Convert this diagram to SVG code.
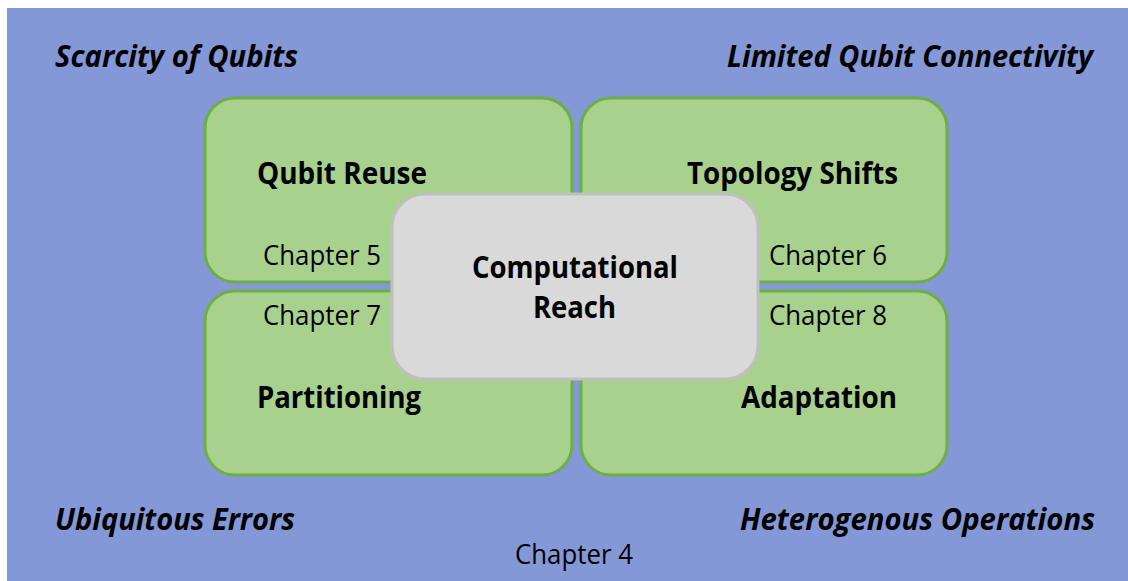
<svg xmlns="http://www.w3.org/2000/svg" width="1128" height="581" viewBox="0 0 1128 581">
  <style>
    .bg { fill: #8497D6; }
    .quad { fill: #A9D18E; stroke: #70AD47; stroke-width: 3; }
    .core { fill: #D9D9D9; stroke: #BFBFBF; stroke-width: 3; }
    text { font-family: "Open Sans", "Noto Sans", "Liberation Sans", sans-serif; fill: #000; }
    .title { font-size: 31px; font-weight: bold; }
    .chap { font-size: 28px; }
    .chal { font-size: 30px; font-weight: bold; font-style: italic; }
  </style>

  <!-- backdrop -->
  <rect class="bg" x="7" y="8" width="1121" height="573"/>

  <!-- challenges in the corners -->
  <g id="challenges">
    <text class="chal" x="55" y="67" textLength="243" lengthAdjust="spacingAndGlyphs">Scarcity of Qubits</text>
    <text class="chal" x="727" y="67" textLength="366" lengthAdjust="spacingAndGlyphs">Limited Qubit Connectivity</text>
    <text class="chal" x="55" y="530" textLength="240" lengthAdjust="spacingAndGlyphs">Ubiquitous Errors</text>
    <text class="chal" x="740" y="530" textLength="355" lengthAdjust="spacingAndGlyphs">Heterogenous Operations</text>
  </g>

  <g id="chapter4">
    <text class="chap" x="515" y="564" textLength="118" lengthAdjust="spacingAndGlyphs">Chapter 4</text>
  </g>

  <g id="qubit-reuse">
    <rect class="quad" x="205" y="98" width="367" height="184" rx="30"/>
    <text class="title" x="257" y="184" textLength="170" lengthAdjust="spacingAndGlyphs">Qubit Reuse</text>
    <text class="chap" x="263" y="265" textLength="118" lengthAdjust="spacingAndGlyphs">Chapter 5</text>
  </g>

  <g id="topology-shifts">
    <rect class="quad" x="581" y="98" width="366" height="184" rx="30"/>
    <text class="title" x="687" y="184" textLength="211" lengthAdjust="spacingAndGlyphs">Topology Shifts</text>
    <text class="chap" x="769" y="265" textLength="118" lengthAdjust="spacingAndGlyphs">Chapter 6</text>
  </g>

  <g id="partitioning">
    <rect class="quad" x="205" y="291" width="367" height="184" rx="30"/>
    <text class="chap" x="263" y="325" textLength="118" lengthAdjust="spacingAndGlyphs">Chapter 7</text>
    <text class="title" x="257" y="408" textLength="164" lengthAdjust="spacingAndGlyphs">Partitioning</text>
  </g>

  <g id="adaptation">
    <rect class="quad" x="581" y="291" width="366" height="184" rx="30"/>
    <text class="chap" x="769" y="325" textLength="118" lengthAdjust="spacingAndGlyphs">Chapter 8</text>
    <text class="title" x="741" y="408" textLength="156" lengthAdjust="spacingAndGlyphs">Adaptation</text>
  </g>

  <g id="computational-reach">
    <rect class="core" x="392" y="194" width="366" height="185" rx="33"/>
    <text class="title" x="472" y="278" textLength="206" lengthAdjust="spacingAndGlyphs">Computational</text>
    <text class="title" x="533" y="318" textLength="83" lengthAdjust="spacingAndGlyphs">Reach</text>
  </g>
</svg>
